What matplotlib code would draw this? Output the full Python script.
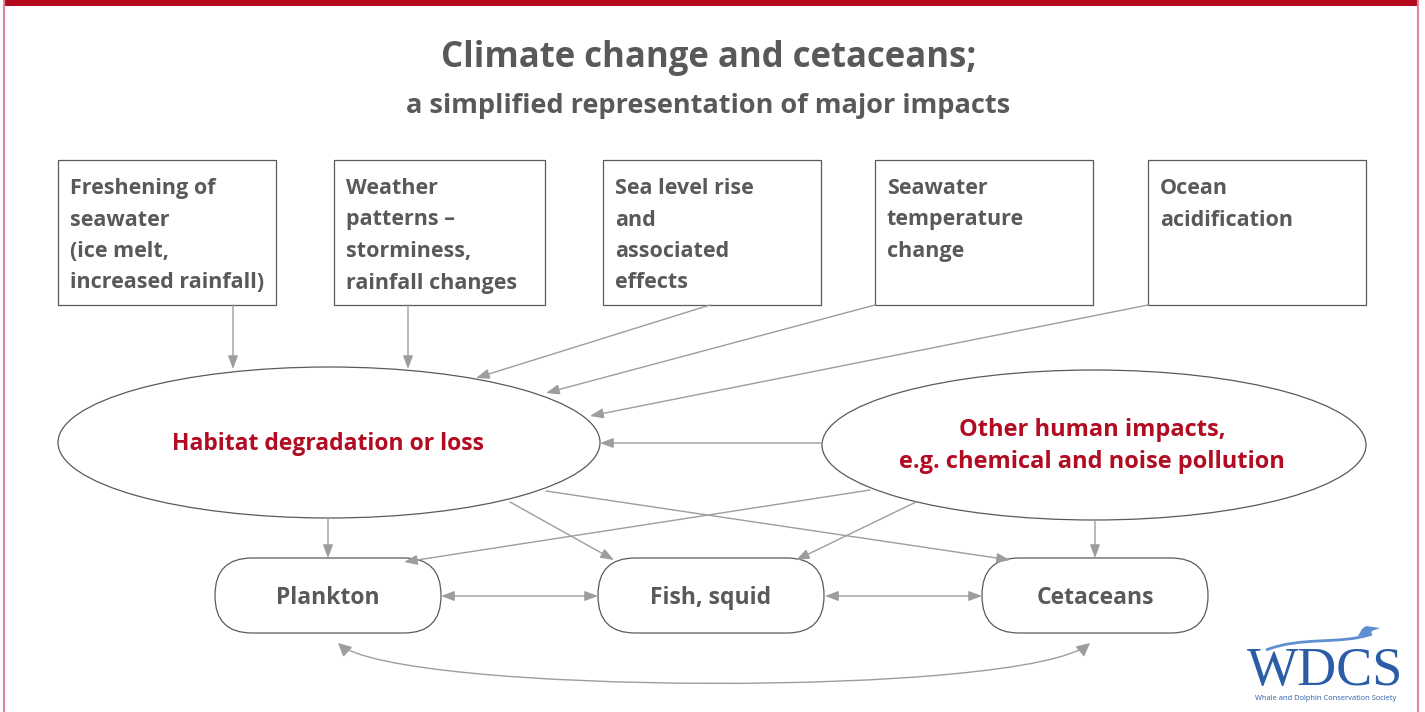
import matplotlib
matplotlib.use('Agg')
import matplotlib.pyplot as plt
from matplotlib.patches import Rectangle, Ellipse, FancyBboxPatch, FancyArrowPatch, PathPatch
from matplotlib.path import Path

plt.rcParams['font.family'] = ['Open Sans', 'DejaVu Sans']

TEXT = '#58595b'
RED = '#b20c22'
ARROW = '#9d9d9d'
EDGE = '#5a5a5a'
BLUE = '#2b5ca6'

title = 'Climate change and cetaceans;'
subtitle = 'a simplified representation of major impacts'

# climate drivers (top boxes), one list per box
drivers = [
    ['Freshening of', 'seawater', '(ice melt,', 'increased rainfall)'],
    ['Weather', 'patterns \u2013', 'storminess,', 'rainfall changes'],
    ['Sea level rise', 'and', 'associated', 'effects'],
    ['Seawater', 'temperature', 'change'],
    ['Ocean', 'acidification'],
]
driver_left = [58, 334, 603, 875, 1148]
driver_right = [276, 545, 821, 1093, 1366]

# middle ellipses
habitat = ['Habitat degradation or loss']
other = ['Other human impacts,', 'e.g. chemical and noise pollution']

# bottom nodes
species = ['Plankton', 'Fish, squid', 'Cetaceans']
species_x = [328, 711, 1095]

# arrows: (start, end) in pixel coordinates of the sketch
one_way = [
    ((233, 305), (233, 369)),
    ((408, 305), (408, 369)),
    ((710, 305), (476, 378)),
    ((875, 305), (546, 393)),
    ((1148, 305), (590, 416)),
    ((822, 443), (600, 443)),
    ((328, 518), (328, 558)),
    ((1095, 520), (1095, 558)),
    ((510, 502), (614, 560)),
    ((546, 491), (1010, 560)),
    ((870, 490), (404, 562)),
    ((916, 502), (796, 560)),
]
two_way = [
    ((441, 596), (598, 596)),
    ((825, 596), (982, 596)),
]

fig = plt.figure(figsize=(14.25, 7.12), dpi=100)
ax = fig.add_axes([0, 0, 1, 1])
ax.set_xlim(0, 1425)
ax.set_ylim(712, 0)
ax.axis('off')

# frame
ax.add_patch(Rectangle((4, 0), 1415, 6, color='#b5091e', lw=0))
ax.plot([4.5, 4.5], [0, 712], color='#e0869a', lw=1.5)
ax.plot([1418.5, 1418.5], [0, 712], color='#e0869a', lw=1.5)

ax.text(709, 58, title, ha='center', va='center', fontsize=25, fontweight='bold', color=TEXT)
ax.text(708, 106, subtitle, ha='center', va='center', fontsize=19.5, fontweight='bold', color=TEXT)

for lines, l, r in zip(drivers, driver_left, driver_right):
    ax.add_patch(Rectangle((l, 160), r - l, 145, fill=False, ec=EDGE, lw=0.9))
    for i, s in enumerate(lines):
        ax.text(l + 12, 194 + 31.5 * i, s, ha='left', va='baseline', fontsize=15.5,
                fontweight='bold', color=TEXT)

ax.add_patch(Ellipse((329, 442.5), 542, 151, fill=False, ec=EDGE, lw=0.9))
ax.add_patch(Ellipse((1094, 445), 544, 150, fill=False, ec=EDGE, lw=0.9))
for i, s in enumerate(habitat):
    ax.text(328, 444 + 32 * i, s, ha='center', va='center', fontsize=16.5,
            fontweight='bold', color=RED)
for i, s in enumerate(other):
    ax.text(1092, 430 + 32 * i, s, ha='center', va='center', fontsize=17,
            fontweight='bold', color=RED)

for lab, cx in zip(species, species_x):
    ax.add_patch(FancyBboxPatch((cx - 113, 558), 226, 75,
                                boxstyle='round,pad=0,rounding_size=37',
                                fill=False, ec=EDGE, lw=0.9))
    ax.text(cx, 598, lab, ha='center', va='center', fontsize=16.5, fontweight='bold', color=TEXT)

for (a, b) in one_way:
    ax.annotate('', xy=b, xytext=a,
                arrowprops=dict(arrowstyle='-|>,head_length=0.8,head_width=0.3',
                                color=ARROW, lw=1, shrinkA=0, shrinkB=0))
for (a, b) in two_way:
    ax.annotate('', xy=b, xytext=a,
                arrowprops=dict(arrowstyle='<|-|>,head_length=0.8,head_width=0.3',
                                color=ARROW, lw=1, shrinkA=0, shrinkB=0))

# curved link plankton <-> cetaceans
curve = Path([(338, 643), (395, 695), (1025, 698), (1090, 643)],
             [Path.MOVETO, Path.CURVE4, Path.CURVE4, Path.CURVE4])
ax.add_patch(FancyArrowPatch(path=curve, arrowstyle='<|-|>,head_length=8,head_width=4',
                             color=ARROW, lw=1))

# WDCS logo
wave = Path([(1266, 650), (1302, 636), (1340, 645), (1372, 634)],
            [Path.MOVETO, Path.CURVE4, Path.CURVE4, Path.CURVE4])
ax.add_patch(PathPatch(wave, fill=False, ec='#5f8fd0', lw=2))
tail = Path([(1358, 636), (1362, 629), (1366, 626), (1380, 628),
             (1372, 631), (1370, 635), (1358, 636)],
            [Path.MOVETO, Path.LINETO, Path.LINETO, Path.LINETO,
             Path.LINETO, Path.LINETO, Path.CLOSEPOLY])
ax.add_patch(PathPatch(tail, fc='#5f8fd0', ec='none'))
ax.text(1325, 672, 'WDCS', ha='center', va='center', fontsize=39, color=BLUE,
        family='Liberation Serif')
ax.text(1326, 698, 'Whale and Dolphin Conservation Society', ha='center', va='center',
        fontsize=5.4, color=BLUE)

fig.savefig('out.png', dpi=100)
